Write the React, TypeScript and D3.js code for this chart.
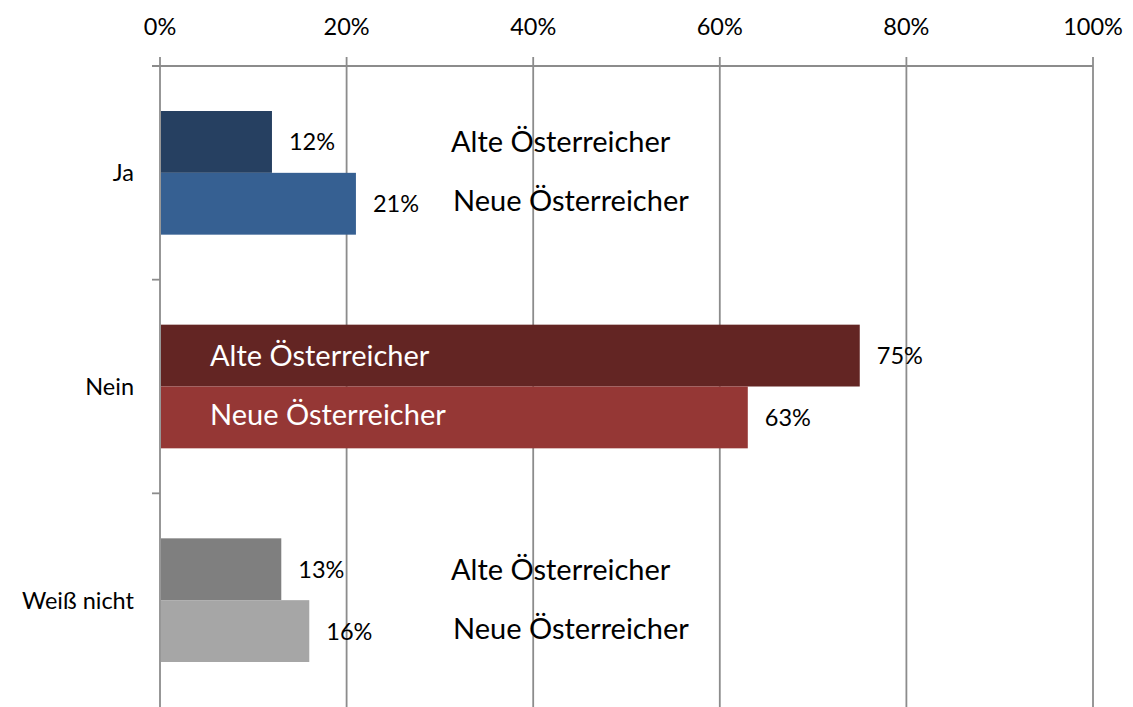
import React from 'react';
import * as d3 from 'd3';

// categories and series values (percent)
const categories = ['Ja', 'Nein', 'Weiß nicht'];
const seriesNames = ['Alte Österreicher', 'Neue Österreicher'];
const alteValues = [12, 75, 13];
const neueValues = [21, 63, 16];
const xTicks = [0, 20, 40, 60, 80, 100];

// per-category colours: [alte, neue]
const colors = [
  ['#264061', '#366092'],
  ['#632523', '#953735'],
  ['#7f7f7f', '#a6a6a6'],
];

const width = 1133;
const height = 707;
const margin = { top: 66, right: 40, bottom: 0, left: 160 };
const font = 'Lato, "Open Sans", sans-serif';
const small = 23.5;
const big = 29;

const App = () => {
  const x = d3.scaleLinear().domain([0, 100]).range([margin.left, 1093]);
  const y = d3.scaleBand<string>()
    .domain(categories)
    .range([margin.top, height - margin.bottom]);
  const inner = d3.scaleBand<string>()
    .domain(seriesNames)
    .range([45, y.bandwidth() - 45]);

  const gridColor = '#8c8c8c';

  return (
    <svg width={width} height={height} style={{ position: 'absolute', left: 0, top: 0 }} fontFamily={font}>
      <rect width={width} height={height} fill="#fff" />
      {/* vertical grid lines + top ticks */}
      {xTicks.map(t => (
        <g key={t}>
          <line x1={x(t)} x2={x(t)} y1={57} y2={height} stroke={gridColor} strokeWidth={1.8} />
          <text x={x(t)} y={34.5} textAnchor="middle" fontSize={small} fill="#000">{t}%</text>
        </g>
      ))}
      {/* top axis line */}
      <line x1={152} x2={x(100)} y1={margin.top} y2={margin.top} stroke={gridColor} strokeWidth={1.8} />
      {/* left category ticks */}
      {categories.map(c => (
        <line key={c} x1={152} x2={x(0)} y1={y(c)!} y2={y(c)!} stroke={gridColor} strokeWidth={1.8} />
      ))}
      {categories.map((c, i) => {
        const y0 = y(c)!;
        const vals = [alteValues[i], neueValues[i]];
        return (
          <g key={c}>
            <text x={134} y={y0 + y.bandwidth() / 2 + 8.5} textAnchor="end" fontSize={small} fill="#000">{c}</text>
            {seriesNames.map((s, j) => {
              const by = y0 + inner(s)!;
              const bh = inner.bandwidth();
              return (
                <g key={s}>
                  <rect x={x(0) + 1} y={by} width={x(vals[j]) - x(0) - 1} height={bh} fill={colors[i][j]} />
                  <text x={x(vals[j]) + 17} y={by + bh / 2 + 8.5} fontSize={small} fill="#000">{vals[j]}%</text>
                </g>
              );
            })}
          </g>
        );
      })}
      {/* series annotations */}
      {categories.map((c, i) => {
        const y0 = y(c)!;
        const inside = i === 1;
        return seriesNames.map((s, j) => (
          <text
            key={c + s}
            x={inside ? 210 : (j === 0 ? 451 : 453)}
            y={y0 + inner(s)! + inner.bandwidth() / 2 + (j === 0 ? 0 : -3) + 10.5}
            fontSize={big}
            fill={inside ? '#fff' : '#000'}
          >{s}</text>
        ));
      })}
    </svg>
  );
};

export default App;
